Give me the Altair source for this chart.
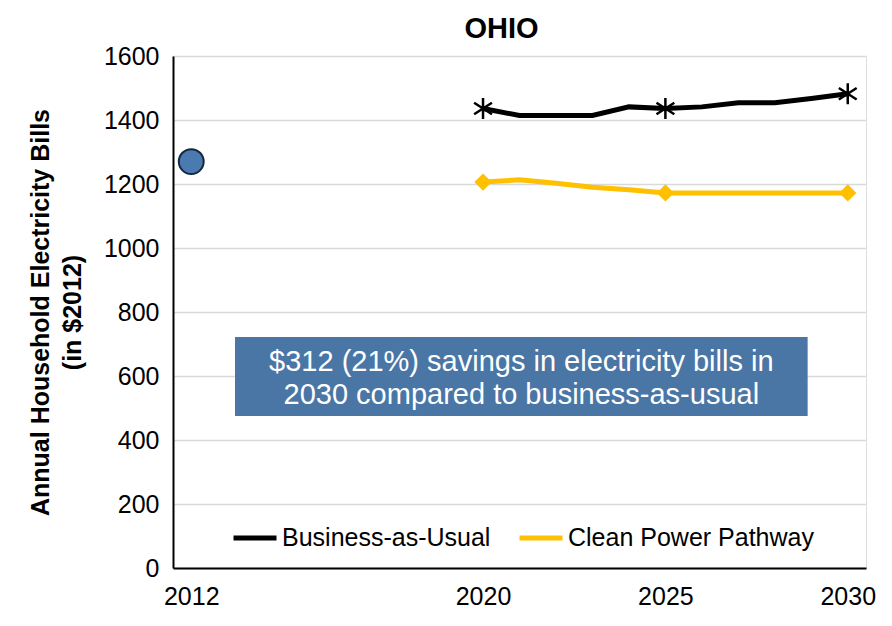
import altair as alt
import pandas as pd

years = list(range(2020, 2031))
bau = [1436, 1414, 1414, 1414, 1441, 1436, 1441, 1454, 1454, 1467, 1482]
clean = [1206, 1213, 1202, 1190, 1182, 1172, 1172, 1172, 1172, 1172, 1172]
marker_years = [2020, 2025, 2030]
series_names = ["Business-as-Usual", "Clean Power Pathway"]
series_colors = ["#000000", "#ffc000"]
base_year = [2012]
base_value = [1270]
x_ticks = [2012, 2020, 2025, 2030]
note_lines = "$312 (21%) savings in electricity bills in\n2030 compared to business-as-usual"
note_box = {"x": 2013.2, "x2": 2028.9, "y": 475, "y2": 722, "tx": 2021.05, "ty": 598}

FONT = "Liberation Sans"

rows = []
for y, b, c in zip(years, bau, clean):
    rows.append({"year": y, "value": b, "series": series_names[0]})
    rows.append({"year": y, "value": c, "series": series_names[1]})
df = pd.DataFrame(rows)
mk = df[df["year"].isin(marker_years)]

xscale = alt.Scale(domain=[2011.5, 2030.5], nice=False, zero=False)
yscale = alt.Scale(domain=[0, 1600], nice=False)

xenc = alt.X("year:Q", scale=xscale,
             axis=alt.Axis(values=x_ticks, format="d", title=None, grid=False,
                           ticks=False, labelFontSize=25, labelPadding=16,
                           labelColor="#000", domainColor="#000", domainWidth=2,
                           labelFont=FONT))
yenc = alt.Y("value:Q", scale=yscale,
             axis=alt.Axis(values=list(range(0, 1601, 200)), format="d", ticks=False,
                           labelFontSize=25, labelPadding=14, labelColor="#000",
                           gridColor="#d9d9d9", gridWidth=1.5,
                           domainColor="#000", domainWidth=2,
                           title=["Annual Household Electricity Bills", "(in $2012)"],
                           titleFontSize=25, titleFontWeight="bold", titleColor="#000",
                           titlePadding=18, titleFont=FONT, labelFont=FONT,
                           titleLineHeight=32))

color = alt.Color("series:N",
                  scale=alt.Scale(domain=series_names, range=series_colors),
                  legend=alt.Legend(orient="none", legendX=58, legendY=458,
                                    direction="horizontal", title=None, padding=0,
                                    symbolType="stroke", symbolSize=1849,
                                    symbolStrokeWidth=5, labelFontSize=25,
                                    labelFont=FONT, labelColor="#000", labelLimit=500,
                                    labelOffset=3, columnPadding=18,
                                    symbolOffset=0))

lines = alt.Chart(df).mark_line(strokeWidth=5).encode(x=xenc, y=yenc, color=color)

star_path = "M0,-1L0,1M-0.85,-0.55L0.85,0.55M-0.85,0.55L0.85,-0.55"
stars = alt.Chart(mk[mk["series"] == series_names[0]]).mark_point(
    shape=star_path, size=440, stroke="#000", strokeWidth=2.5, filled=False, opacity=1
).encode(x="year:Q", y="value:Q")
diamonds = alt.Chart(mk[mk["series"] == series_names[1]]).mark_point(
    shape="diamond", size=300, fill="#ffc000", filled=True, opacity=1, strokeWidth=0
).encode(x="year:Q", y="value:Q")

base = alt.Chart(pd.DataFrame({"year": base_year, "value": base_value})).mark_point(
    shape="circle", size=620, filled=True, fill="#4a7ab0", stroke="#14283f",
    strokeWidth=2, opacity=1
).encode(x="year:Q", y="value:Q")

nb = pd.DataFrame([note_box])
box = alt.Chart(nb).mark_rect(color="#4a76a6").encode(
    x="x:Q", x2="x2", y="y:Q", y2="y2")
txt = alt.Chart(pd.DataFrame({"tx": [note_box["tx"]], "ty": [note_box["ty"]],
                              "t": [note_lines]})).mark_text(
    color="white", fontSize=29, font=FONT, lineBreak="\n", lineHeight=33,
    align="center", baseline="middle", dy=-15
).encode(x="tx:Q", y="ty:Q", text="t:N")

chart = alt.layer(lines, stars, diamonds, base, box, txt).properties(
    width=693, height=512,
    padding={"left": 20, "top": 7, "right": 5, "bottom": 5},
    title=alt.TitleParams("OHIO", fontSize=29, fontWeight="bold", font=FONT,
                          color="#000", offset=0, dx=-18)
).configure_view(stroke="#000", strokeWidth=2).configure(background="white")

chart.save("out.html", embed_options={"renderer": "svg", "actions": False})
